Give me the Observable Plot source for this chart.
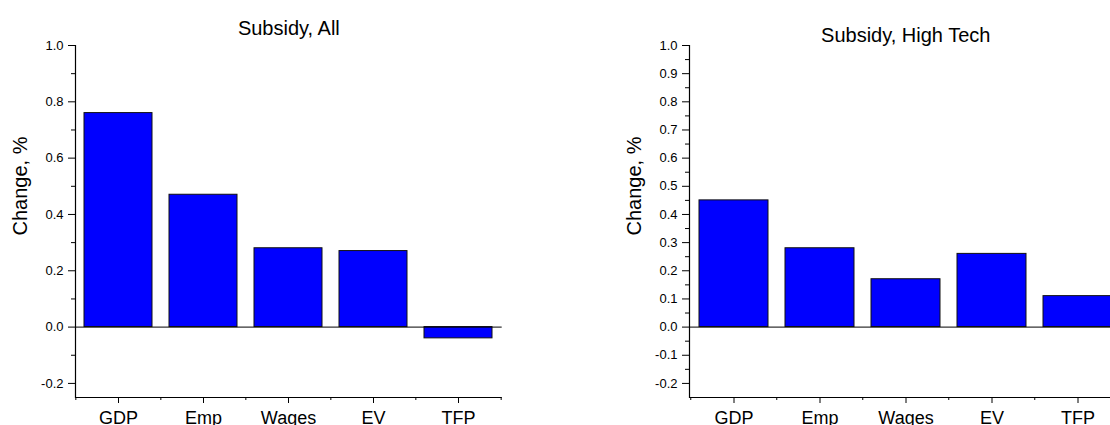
<!DOCTYPE html>
<html><head><meta charset="utf-8">
<script src="https://cdn.jsdelivr.net/npm/d3@7"></script>
<script src="https://cdn.jsdelivr.net/npm/@observablehq/plot@0.6"></script>
<style>
html,body{margin:0;padding:0;background:#fff;overflow:hidden;width:1110px;height:425px}
#wrap{position:relative;width:1110px;height:425px;overflow:hidden;background:#fff}
.panel{position:absolute;top:0}
</style></head><body><div id="wrap"></div>
<script>
const categories = ["GDP", "Emp", "Wages", "EV", "TFP"];
const valuesAll = [0.76, 0.47, 0.28, 0.27, -0.04];
const valuesHighTech = [0.45, 0.28, 0.17, 0.26, 0.11];
const titleAll = "Subsidy, All";
const titleHighTech = "Subsidy, High Tech";
const yLabel = "Change, %";
const yDomain = [-0.25, 1.0];
const yMajorAll = [-0.2, 0.0, 0.2, 0.4, 0.6, 0.8, 1.0];
const yMinorAll = [-0.1, 0.1, 0.3, 0.5, 0.7, 0.9];
const yMajorHighTech = [-0.2, -0.1, 0.0, 0.1, 0.2, 0.3, 0.4, 0.5, 0.6, 0.7, 0.8, 0.9, 1.0];
const yMinorHighTech = [-0.15, -0.05, 0.05, 0.15, 0.25, 0.35, 0.45, 0.55, 0.65, 0.75, 0.85, 0.95];

function panel({left, width, ml, mr, values, title, titleDy, major, minor}) {
  const data = categories.map((c, i) => ({category: c, value: values[i]}));
  const step = (width - ml - mr) / categories.length;
  const svg = Plot.plot({
    width, height: 425,
    marginLeft: ml, marginRight: mr, marginTop: 45, marginBottom: 28,
    style: {fontFamily: "'Liberation Sans', Arial, sans-serif", fontSize: "13px", color: "#000", background: "transparent", maxWidth: "none", overflow: "visible"},
    x: {domain: categories, paddingInner: 0.2, paddingOuter: 0.1},
    y: {domain: yDomain},
    marks: [
      Plot.barY(data, {x: "category", y: "value", fill: "#0000ff", stroke: "#111", strokeWidth: 1}),
      Plot.ruleY([0], {stroke: "#000", strokeWidth: 1}),
      Plot.ruleY([yDomain[0]], {stroke: "#000", strokeWidth: 1.2}),
      Plot.frame({anchor: "left", stroke: "#000", strokeWidth: 1.2}),
      Plot.axisY(major, {tickSize: 7, tickPadding: 5, fontSize: 13, tickFormat: d => d.toFixed(1), label: null}),
      Plot.axisY(minor, {tickSize: 4, tickFormat: () => "", label: null}),
      Plot.axisX(categories, {tickSize: 6, tickPadding: 8, fontSize: 18, label: null}),
      Plot.axisX(categories, {tickSize: 3, dx: -step / 2, tickFormat: () => "", label: null}),
      Plot.axisX([categories[categories.length - 1]], {tickSize: 3, dx: step / 2, tickFormat: () => "", label: null}),
      Plot.text([title], {frameAnchor: "top", dy: titleDy, fontSize: 20, fill: "#000"}),
      Plot.text([yLabel], {frameAnchor: "left", rotate: -90, dx: -55, dy: 14, fontSize: 20, fill: "#000"})
    ]
  });
  svg.classList.add("panel");
  svg.style.left = left + "px";
  document.getElementById("wrap").appendChild(svg);
}

panel({left: 0, width: 540, ml: 75, mr: 38.3, values: valuesAll, title: titleAll, titleDy: -25, major: yMajorAll, minor: yMinorAll});
panel({left: 610, width: 521.5, ml: 79, mr: 10, values: valuesHighTech, title: titleHighTech, titleDy: -18, major: yMajorHighTech, minor: yMinorHighTech});
</script>
</body></html>
